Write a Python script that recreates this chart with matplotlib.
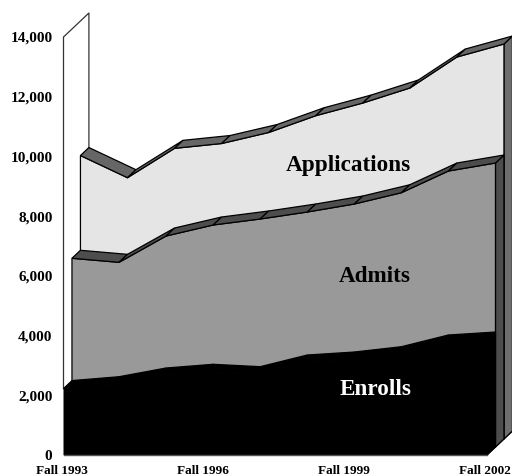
# 3D style area chart of applications, admits and enrolls, fall 1993 to fall 2002

import matplotlib
matplotlib.use('Agg')
import matplotlib.pyplot as plt
import matplotlib.transforms as mtrans
import numpy as np

years = ['Fall 1993', '', '', 'Fall 1996', '', '', 'Fall 1999', '', '', 'Fall 2002']
enrolls = [2224, 2354, 2646, 2770, 2690, 3081, 3181, 3359, 3751, 3851]
admits = [6320, 6185, 7066, 7435, 7636, 7870, 8138, 8516, 9243, 9511]
applications = [9494, 8751, 9735, 9896, 10265, 10827, 11252, 11755, 12793, 13229]
y_ticks = [0, 2000, 4000, 6000, 8000, 10000, 12000, 14000]

# shift of one layer in data units, for the fake depth
depth_x = 0.18
depth_y = 268

plt.rcParams['font.family'] = ['Liberation Serif', 'DejaVu Serif']

fig = plt.figure(figsize=(5.12, 4.76), dpi=100)
ax = fig.add_axes([63.5 / 512, 21 / 476, 423.5 / 512, 418 / 476])
ax.set_xlim(0, 9)
ax.set_ylim(0, 14000)
for s in ax.spines.values():
    s.set_visible(False)

x = np.arange(len(years))
n_layers = 3
top_x = n_layers * depth_x
top_y = n_layers * depth_y

# back wall edge and the left wall
ax.plot([0, 0, top_x, top_x], [enrolls[0], 14000, 14000 + top_y, applications[0] + top_y],
        color='#333333', lw=0.9, clip_on=False, zorder=1)
# floor edge on the right
ax.plot([9, 9 + top_x], [0, top_y], color='black', lw=0.9, clip_on=False, zorder=1)

# draw back to front: (values, depth, face colour, ribbon colour, side colour)
layers = [(applications, 2, '#e5e5e5', '#666666', '#6e6e6e'),
          (admits, 1, '#999999', '#4d4d4d', '#4d4d4d'),
          (enrolls, 0, 'black', 'black', 'black')]

z = 2
for vals, d, face, ribbon, side in layers:
    fx = x + d * depth_x
    base = d * depth_y
    fy = np.array(vals) + base

    # side on the right
    ax.fill([fx[-1], fx[-1] + depth_x, fx[-1] + depth_x, fx[-1]],
            [base, base + depth_y, fy[-1] + depth_y, fy[-1]],
            facecolor=side, edgecolor='black', lw=0.9, clip_on=False, zorder=z)
    z += 1
    # front face
    ax.fill(np.r_[fx, fx[-1], fx[0]], np.r_[fy, base, base],
            facecolor=face, edgecolor='black' if d > 0 else 'none', lw=0.9, clip_on=False, zorder=z)
    z += 1
    # ribbon along the top, one piece per segment
    for i in range(len(x) - 1):
        ax.fill([fx[i], fx[i + 1], fx[i + 1] + depth_x, fx[i] + depth_x],
                [fy[i], fy[i + 1], fy[i + 1] + depth_y, fy[i] + depth_y],
                facecolor=ribbon, edgecolor='black', lw=0.9, clip_on=False, zorder=z)
        z += 1

# grey base line
ax.plot([0, 9], [0, 0], color='#555555', lw=1.0, clip_on=False, zorder=z)

ax.set_xticks(x[::3])
ax.set_xticklabels(years[::3], fontsize=9.5, fontweight='bold')
ax.set_yticks(y_ticks)
ax.set_yticklabels([f'{v:,}' for v in y_ticks], fontsize=11, fontweight='bold')
ax.tick_params(length=0)
ax.tick_params(axis='x', pad=7)
ax.tick_params(axis='y', pad=8)
# labels sit a little left of the tick positions
shift = mtrans.ScaledTranslation(-2 / 100, 0, fig.dpi_scale_trans)
for lab in ax.get_xticklabels():
    lab.set_transform(lab.get_transform() + shift)

ax.text(7.39, 9700, 'Applications', ha='right', va='center', fontsize=16.7, fontweight='bold', zorder=z + 1)
ax.text(7.39, 5990, 'Admits', ha='right', va='center', fontsize=16.7, fontweight='bold', zorder=z + 1)
ax.text(7.39, 2200, 'Enrolls', ha='right', va='center', fontsize=16.7, fontweight='bold', color='white', zorder=z + 1)

fig.savefig('out.png', dpi=100)
